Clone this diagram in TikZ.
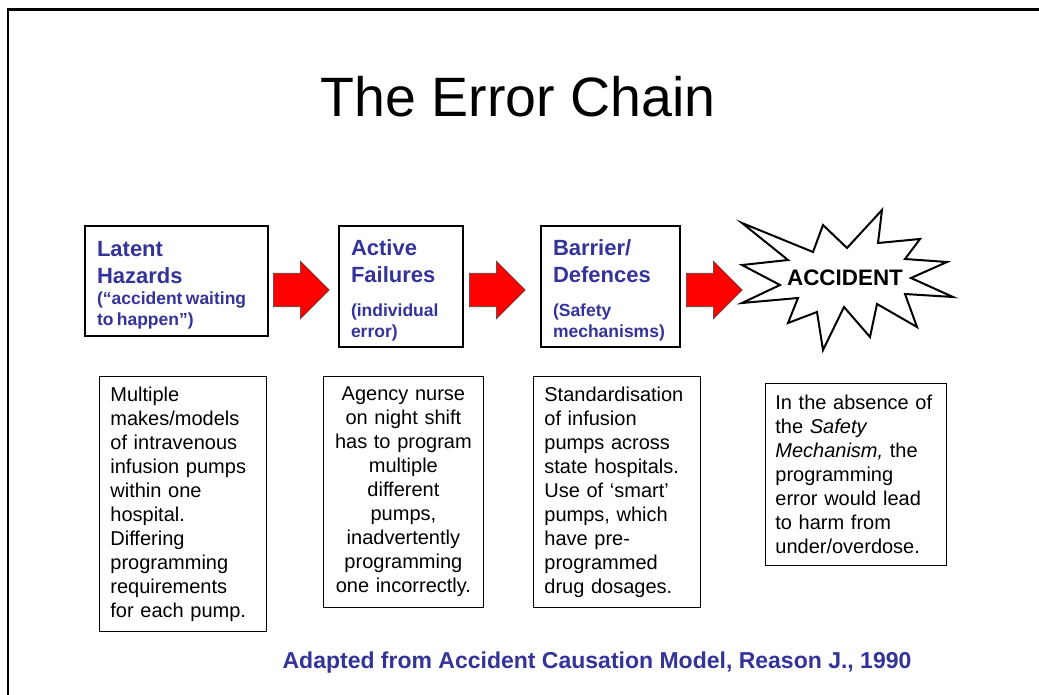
\documentclass[tikz,border=0pt]{standalone}
\usepackage{fontspec}
\setmainfont{Liberation Sans}
\usetikzlibrary{shapes.arrows}
\definecolor{reasonblue}{RGB}{51,51,153}
\newcommand{\boxhead}[1]{{\fontsize{22}{27}\selectfont\bfseries\rule{0pt}{24pt}#1\par}}
\newcommand{\boxsub}[1]{{\fontsize{17.5}{21}\selectfont\bfseries #1\par}}

\begin{document}
\begin{tikzpicture}[
        x=1pt, y=-1pt,
        stagebox/.style={draw, line width=2pt, anchor=north west, align=left, inner xsep=12pt, inner ysep=0pt, text=reasonblue},
        notebox/.style={draw, line width=0.8pt, anchor=north west, inner ysep=0pt, font=\fontsize{20}{24}\selectfont},
        chainarrow/.style={single arrow, anchor=tail, draw=black!75, line width=0.6pt, fill=red, single arrow head extend=12pt, minimum height=56pt, minimum width=58pt, inner xsep=0pt, inner ysep=16pt}
    ]
        \useasboundingbox (0,0) rectangle (1039,695);
        \draw[line width=2.5pt] (8,695) |- (1039,9.5);
        \node[anchor=base, font=\fontsize{55.5}{60}\selectfont] (title) at (518,117) {The Error Chain};

        % the chain
        \node[stagebox, text width=159pt, minimum height=110pt] (latent) at (84,225)
        {\boxhead{Latent\\Hazards}\boxsub{(“accident waiting\\to happen”)}};
        \node[stagebox, text width=100pt, minimum height=121pt] (active) at (338,225)
        {\boxhead{Active\\Failures}\vspace{13pt}\boxsub{(individual\\error)}};
        \node[stagebox, text width=115pt, minimum height=121pt] (barrier) at (540,225)
        {\boxhead{Barrier/\\Defences}\vspace{13pt}\boxsub{(Safety\\mechanisms)}};
        \draw[fill=white, line width=2pt, line join=miter] (742,223) -- (813,252) -- (823,225) -- (847,248) -- (882,210) -- (878,243)
            -- (920,239) -- (905,259) -- (947,262) -- (911,278) -- (953,297) -- (905,294) -- (917,327) -- (877,304)
            -- (870,337) -- (844,307) -- (823,350) -- (817,312) -- (788,323) -- (798,298) -- (742,303) -- (780,285)
            -- (742,265) -- (788,260) -- cycle;
        \node[anchor=base, font=\fontsize{22.4}{26}\selectfont\bfseries] (accident) at (845,285) {ACCIDENT};
        \node[chainarrow] (arrowA) at (273,290) {};
        \node[chainarrow] (arrowB) at (469,290) {};
        \node[chainarrow] (arrowC) at (686,290) {};

        % examples under each stage
        \node[notebox, align=left, inner xsep=11pt, text width=145pt, minimum height=255pt] (latentnote) at (99,376)
        {Multiple\\makes/models\\of intravenous\\infusion pumps\\within one\\hospital.\\Differing\\programming\\requirements\\for each pump.};
        \node[notebox, align=center, inner xsep=10pt, text width=140pt, minimum height=231pt] (activenote) at (323,376)
        {Agency nurse\\on night shift\\has to program\\multiple\\different\\pumps,\\inadvertently\\programming\\one incorrectly.};
        \node[notebox, align=left, inner xsep=11pt, text width=145pt, minimum height=231pt] (barriernote) at (533,376)
        {Standardisation\\of infusion\\pumps across\\state hospitals.\\Use of ‘smart’\\pumps, which\\have pre-\\programmed\\drug dosages.};
        \node[notebox, align=left, inner xsep=10pt, text width=161pt, minimum height=182pt] (accidentnote) at (765,383)
        {In the absence of\\the \textit{Safety}\\\textit{Mechanism,} the\\programming\\error would lead\\to harm from\\under/overdose.};

        \node[anchor=base, text=reasonblue, font=\fontsize{23}{26}\selectfont\bfseries] (source) at (597,668)
        {Adapted from Accident Causation Model, Reason J., 1990};
    \end{tikzpicture}
\end{document}
